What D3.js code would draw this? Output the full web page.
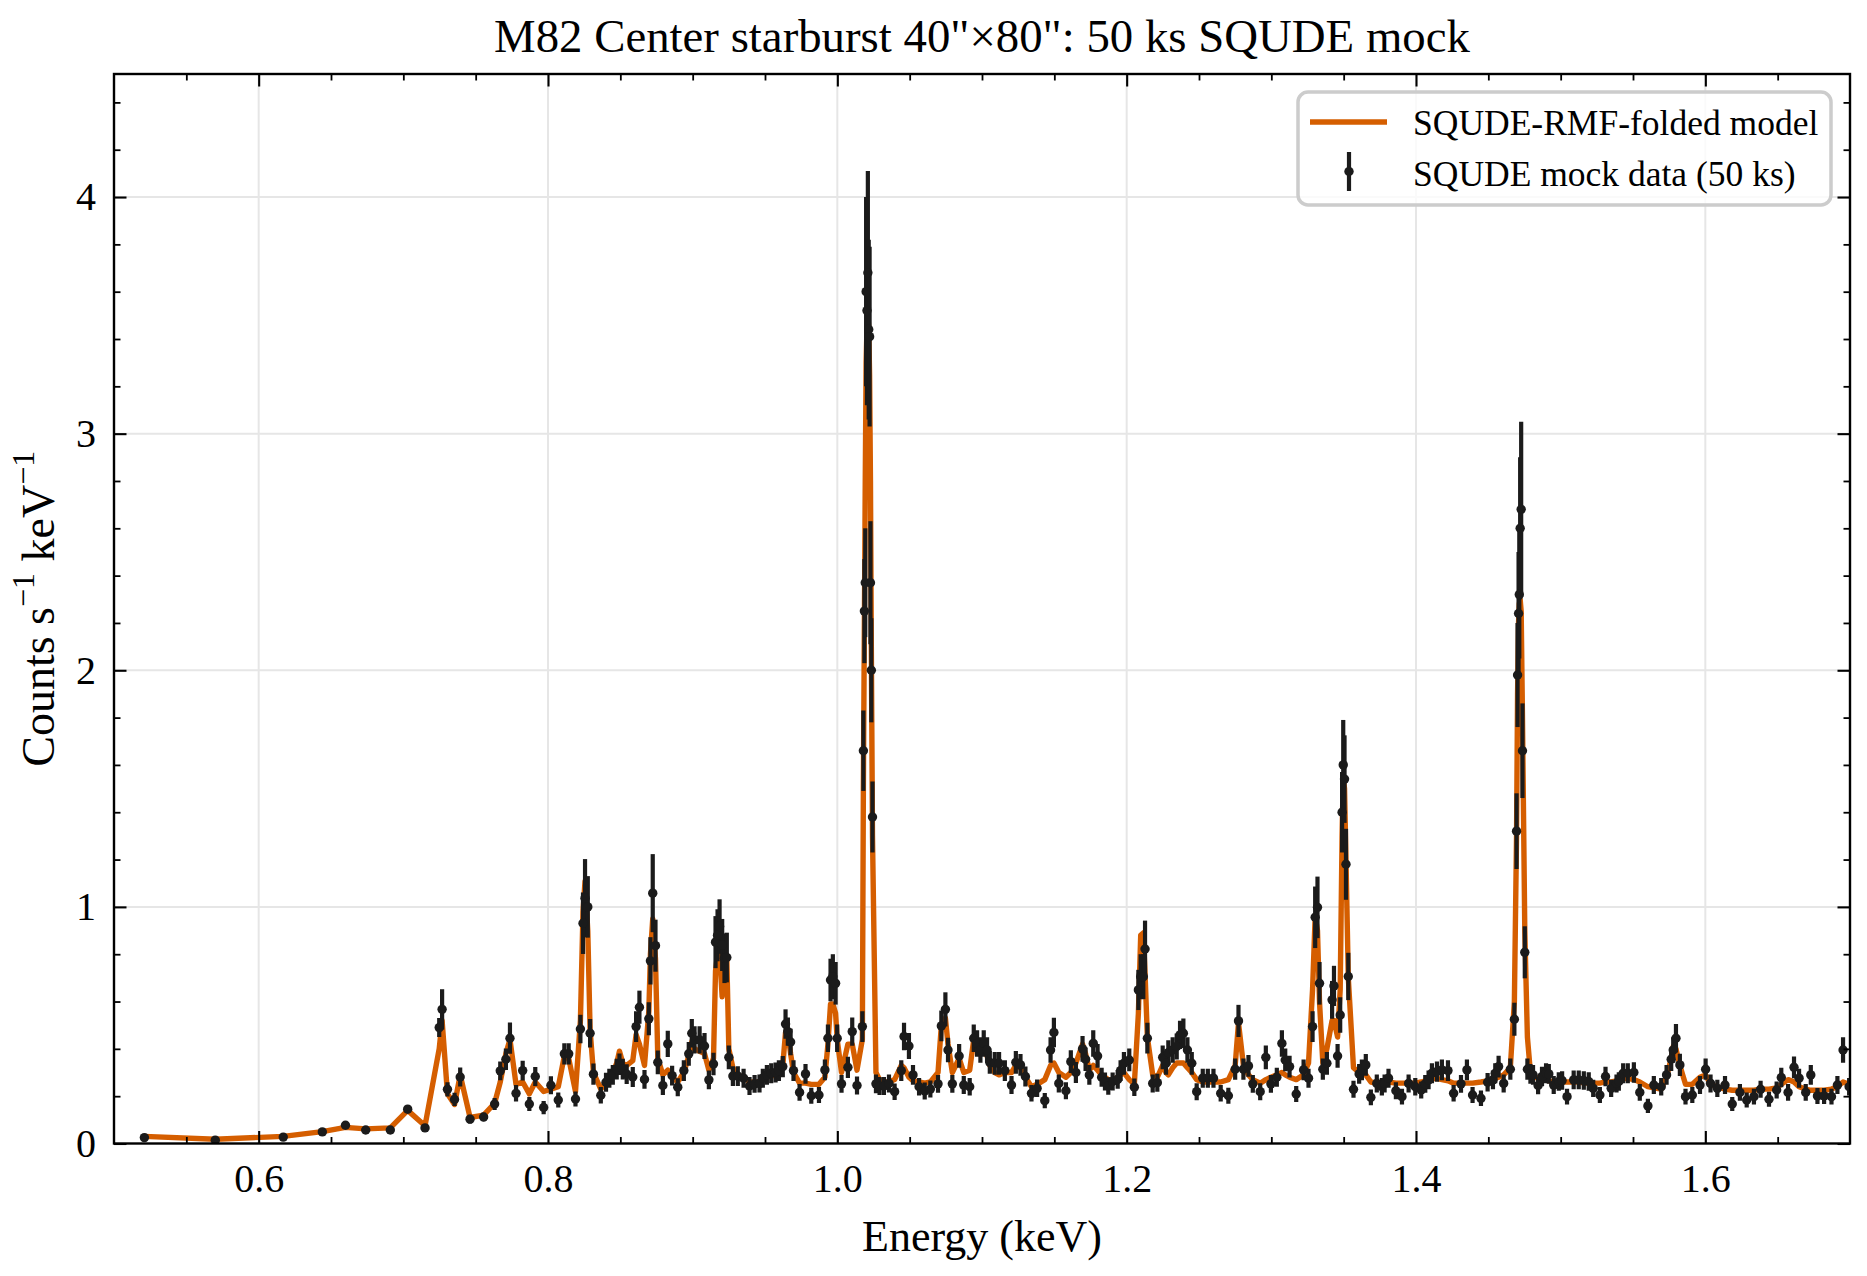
<!DOCTYPE html>
<html lang="en">
<head>
<meta charset="utf-8">
<title>M82 Center starburst: 50 ks SQUDE mock</title>
<script src="https://cdn.jsdelivr.net/npm/d3@7"></script>
<style>
  body { margin: 0; background: white; }
  svg { display: block; font-family: "Liberation Serif", "DejaVu Serif", serif; }
</style>
</head>
<body>
<div id="chart"></div>
<script>
// ---- data (keV, counts s^-1 keV^-1) ----
var energy = [
  0.521,0.570,0.617,0.644,0.660,0.674,0.691,0.703,0.715,0.7248,
  0.7268,0.7305,0.7354,0.7393,0.7461,0.7555,0.7631,0.7670,0.7709,0.7737,
  0.7779,0.7825,0.7871,0.7912,0.7970,0.8020,0.8071,0.8113,0.8143,0.8190,
  0.8224,0.8242,0.8256,0.8275,0.8291,0.8314,0.8365,0.8401,0.8424,0.8448,
  0.8475,0.8494,0.8517,0.8544,0.8586,0.8609,0.8632,0.8667,0.8697,0.8708,
  0.8724,0.8743,0.8759,0.8794,0.8828,0.8858,0.8897,0.8939,0.8973,0.8994,
  0.9013,0.9048,0.9082,0.9112,0.9144,0.9158,0.9172,0.9186,0.9204,0.9220,
  0.9236,0.9250,0.9278,0.9312,0.9352,0.9393,0.9428,0.9462,0.9485,0.9513,
  0.9543,0.9573,0.9596,0.9623,0.9642,0.9658,0.9677,0.9697,0.9739,0.9780,
  0.9820,0.9873,0.9914,0.9935,0.9953,0.9969,0.9988,0.9999,1.0029,1.0073,
  1.0103,1.0136,1.0173,1.0180,1.0187,1.0193,1.0199,1.0205,1.0211,1.0217,
  1.0223,1.0229,1.0235,1.0243,1.0267,1.0292,1.0322,1.0357,1.0396,1.0442,
  1.0461,1.0495,1.0523,1.0565,1.0604,1.0643,1.0696,1.0719,1.0747,1.0765,
  1.0795,1.0842,1.0874,1.0915,1.0943,1.0966,1.0989,1.1012,1.1035,1.1054,
  1.1088,1.1118,1.1158,1.1204,1.1234,1.1266,1.1300,1.1342,1.1381,1.1434,
  1.1474,1.1497,1.1531,1.1580,1.1614,1.1649,1.1695,1.1716,1.1742,1.1769,
  1.1799,1.1827,1.1850,1.1873,1.1903,1.1938,1.1958,1.1981,1.2018,1.2053,
  1.2081,1.2097,1.2115,1.2127,1.2143,1.2180,1.2212,1.2249,1.2272,1.2288,
  1.2318,1.2346,1.2369,1.2392,1.2420,1.2450,1.2484,1.2526,1.2561,1.2600,
  1.2650,1.2703,1.2750,1.2773,1.2807,1.2842,1.2872,1.2923,1.2962,1.2997,
  1.3038,1.3073,1.3096,1.3126,1.3172,1.3223,1.3257,1.3285,1.3303,1.3319,
  1.3333,1.3356,1.3384,1.3420,1.3433,1.3458,1.3476,1.3489,1.3497,1.3506,
  1.3516,1.3532,1.3568,1.3607,1.3626,1.3653,1.3688,1.3729,1.3764,1.3783,
  1.3810,1.3861,1.3903,1.3949,1.3995,1.4036,1.4064,1.4087,1.4110,1.4145,
  1.4179,1.4221,1.4260,1.4311,1.4352,1.4391,1.4449,1.4495,1.4532,1.4548,
  1.4571,1.4606,1.4652,1.4680,1.4695,1.4702,1.4709,1.4714,1.4720,1.4727,
  1.4736,1.4752,1.4770,1.4791,1.4809,1.4844,1.4871,1.4899,1.4918,1.4952,
  1.4987,1.5010,1.5044,1.5090,1.5125,1.5160,1.5194,1.5225,1.5271,1.5310,
  1.5349,1.5386,1.5402,1.5432,1.5464,1.5506,1.5547,1.5603,1.5644,1.5695,
  1.5732,1.5764,1.5778,1.5797,1.5824,1.5863,1.5910,1.5963,1.6002,1.6036,
  1.6083,1.6136,1.6186,1.6239,1.6286,1.6336,1.6382,1.6440,1.6493,1.6525,
  1.6572,1.6613,1.6648,1.6694,1.6729,1.6775,1.6821,1.6872,1.6913,1.6952,
  1.6994,1.7040
];

var counts = [
  0.025,0.014,0.027,0.049,0.077,0.057,0.057,0.145,0.066,0.490,
  0.567,0.229,0.186,0.281,0.103,0.112,0.167,0.307,0.356,0.445,
  0.212,0.308,0.167,0.283,0.152,0.246,0.184,0.379,0.379,0.188,
  0.484,0.931,1.037,1.000,0.466,0.293,0.204,0.259,0.276,0.290,
  0.314,0.335,0.314,0.293,0.281,0.494,0.576,0.271,0.527,0.772,
  1.058,0.836,0.343,0.245,0.421,0.287,0.238,0.308,0.379,0.466,
  0.438,0.438,0.412,0.269,0.336,0.851,0.880,0.917,0.839,0.783,
  0.786,0.364,0.285,0.285,0.276,0.243,0.252,0.254,0.276,0.290,
  0.297,0.300,0.308,0.325,0.505,0.473,0.429,0.308,0.216,0.294,
  0.202,0.205,0.311,0.445,0.691,0.705,0.677,0.445,0.252,0.322,
  0.473,0.245,0.494,1.660,2.250,2.370,3.600,3.520,3.680,3.440,
  3.410,2.370,2.000,1.380,0.252,0.243,0.243,0.254,0.219,0.308,
  0.452,0.412,0.290,0.240,0.222,0.230,0.252,0.497,0.567,0.395,
  0.252,0.370,0.247,0.240,0.445,0.423,0.395,0.423,0.395,0.343,
  0.339,0.339,0.308,0.247,0.343,0.332,0.283,0.212,0.233,0.181,
  0.395,0.469,0.254,0.223,0.346,0.300,0.400,0.356,0.290,0.423,
  0.370,0.280,0.262,0.243,0.262,0.271,0.308,0.339,0.353,0.238,
  0.649,0.705,0.705,0.822,0.445,0.254,0.257,0.364,0.339,0.384,
  0.395,0.410,0.459,0.466,0.395,0.339,0.219,0.276,0.276,0.276,
  0.212,0.202,0.314,0.518,0.314,0.328,0.252,0.219,0.364,0.252,
  0.280,0.423,0.353,0.325,0.209,0.311,0.276,0.494,0.956,0.998,
  0.677,0.314,0.339,0.607,0.666,0.370,0.543,1.400,1.600,1.540,
  1.180,0.706,0.229,0.294,0.311,0.332,0.195,0.254,0.240,0.254,
  0.276,0.223,0.198,0.254,0.240,0.226,0.252,0.269,0.297,0.304,
  0.311,0.308,0.212,0.252,0.311,0.205,0.191,0.259,0.269,0.297,
  0.325,0.254,0.314,0.525,1.320,1.980,2.240,2.320,2.600,2.680,
  1.660,0.808,0.314,0.294,0.290,0.245,0.283,0.297,0.294,0.247,
  0.262,0.266,0.198,0.269,0.269,0.266,0.262,0.233,0.205,0.283,
  0.233,0.254,0.262,0.297,0.297,0.300,0.216,0.159,0.247,0.240,
  0.290,0.356,0.395,0.445,0.332,0.198,0.205,0.247,0.314,0.254,
  0.233,0.247,0.167,0.216,0.184,0.198,0.229,0.187,0.226,0.279,
  0.216,0.322,0.276,0.216,0.290,0.201,0.201,0.198,0.247,0.395,
  0.240,0.260
];

var countErr = [
  0.006,0.005,0.006,0.008,0.010,0.009,0.010,0.015,0.012,0.040,
  0.085,0.030,0.028,0.040,0.018,0.018,0.025,0.040,0.045,0.066,
  0.035,0.042,0.030,0.040,0.028,0.038,0.032,0.045,0.045,0.032,
  0.060,0.130,0.165,0.130,0.060,0.045,0.035,0.040,0.040,0.042,
  0.044,0.045,0.044,0.042,0.042,0.065,0.070,0.040,0.070,0.100,
  0.165,0.110,0.050,0.040,0.055,0.042,0.038,0.044,0.050,0.060,
  0.058,0.058,0.055,0.040,0.048,0.110,0.110,0.115,0.110,0.105,
  0.105,0.050,0.042,0.042,0.040,0.038,0.038,0.038,0.040,0.042,
  0.042,0.042,0.044,0.045,0.062,0.060,0.056,0.044,0.035,0.042,
  0.034,0.034,0.044,0.058,0.090,0.095,0.090,0.058,0.038,0.045,
  0.060,0.038,0.065,0.170,0.220,0.230,0.400,0.400,0.430,0.380,
  0.380,0.260,0.220,0.150,0.040,0.038,0.038,0.038,0.035,0.044,
  0.058,0.055,0.042,0.037,0.036,0.036,0.038,0.065,0.072,0.052,
  0.038,0.050,0.038,0.037,0.058,0.056,0.054,0.056,0.054,0.048,
  0.048,0.048,0.044,0.038,0.048,0.046,0.042,0.035,0.037,0.032,
  0.054,0.062,0.038,0.036,0.048,0.044,0.054,0.050,0.042,0.056,
  0.050,0.040,0.038,0.037,0.038,0.040,0.044,0.048,0.048,0.037,
  0.085,0.095,0.095,0.120,0.065,0.038,0.038,0.050,0.048,0.052,
  0.054,0.055,0.060,0.062,0.054,0.048,0.036,0.040,0.040,0.040,
  0.035,0.034,0.045,0.068,0.045,0.046,0.038,0.036,0.050,0.038,
  0.040,0.056,0.048,0.046,0.034,0.044,0.040,0.065,0.130,0.130,
  0.090,0.045,0.048,0.080,0.085,0.050,0.075,0.170,0.190,0.185,
  0.150,0.100,0.036,0.042,0.044,0.046,0.033,0.038,0.037,0.038,
  0.040,0.036,0.033,0.038,0.037,0.036,0.038,0.040,0.042,0.043,
  0.044,0.044,0.035,0.038,0.044,0.034,0.033,0.039,0.040,0.042,
  0.046,0.038,0.045,0.070,0.160,0.220,0.260,0.270,0.300,0.370,
  0.200,0.110,0.045,0.042,0.042,0.037,0.041,0.042,0.042,0.038,
  0.039,0.039,0.033,0.040,0.040,0.039,0.039,0.036,0.034,0.041,
  0.036,0.038,0.039,0.042,0.042,0.043,0.035,0.030,0.038,0.037,
  0.042,0.050,0.054,0.060,0.047,0.033,0.034,0.038,0.045,0.038,
  0.036,0.038,0.030,0.035,0.032,0.033,0.036,0.032,0.036,0.041,
  0.035,0.046,0.040,0.035,0.042,0.034,0.034,0.033,0.038,0.054,
  0.037,0.039
];

var model = [
  0.030,0.018,0.030,0.050,0.068,0.062,0.066,0.140,0.075,0.400,
  0.520,0.210,0.165,0.290,0.110,0.120,0.170,0.260,0.380,0.440,
  0.250,0.260,0.210,0.260,0.220,0.230,0.240,0.370,0.360,0.220,
  0.520,0.980,1.110,0.900,0.480,0.300,0.230,0.260,0.290,0.300,
  0.340,0.390,0.340,0.330,0.350,0.460,0.420,0.330,0.560,0.800,
  0.950,0.780,0.360,0.290,0.310,0.280,0.260,0.300,0.370,0.430,
  0.400,0.390,0.380,0.310,0.360,0.730,0.800,0.800,0.620,0.780,
  0.780,0.400,0.320,0.290,0.280,0.260,0.260,0.260,0.270,0.280,
  0.285,0.290,0.300,0.330,0.470,0.470,0.380,0.300,0.255,0.255,
  0.250,0.250,0.280,0.420,0.590,0.590,0.550,0.440,0.300,0.420,
  0.420,0.310,0.440,1.500,2.200,2.800,3.300,3.450,3.500,3.450,
  3.250,2.800,2.100,1.300,0.300,0.270,0.260,0.260,0.270,0.330,
  0.320,0.280,0.265,0.260,0.255,0.260,0.300,0.500,0.530,0.420,
  0.300,0.360,0.300,0.310,0.440,0.420,0.380,0.400,0.370,0.330,
  0.300,0.290,0.300,0.300,0.330,0.320,0.280,0.240,0.250,0.270,
  0.330,0.340,0.300,0.280,0.300,0.340,0.420,0.380,0.310,0.330,
  0.310,0.290,0.280,0.270,0.270,0.280,0.290,0.300,0.270,0.250,
  0.550,0.880,0.890,0.720,0.450,0.290,0.280,0.330,0.300,0.290,
  0.320,0.340,0.340,0.340,0.320,0.300,0.270,0.260,0.260,0.260,
  0.260,0.270,0.330,0.510,0.330,0.290,0.270,0.255,0.270,0.280,
  0.290,0.300,0.290,0.280,0.270,0.290,0.340,0.650,0.960,0.900,
  0.600,0.340,0.400,0.520,0.520,0.450,0.650,1.300,1.550,1.500,
  1.200,0.700,0.320,0.300,0.300,0.290,0.260,0.255,0.255,0.255,
  0.260,0.255,0.255,0.255,0.255,0.260,0.265,0.270,0.275,0.275,
  0.270,0.265,0.255,0.255,0.255,0.255,0.260,0.265,0.270,0.275,
  0.280,0.290,0.320,0.600,1.300,1.900,2.200,2.280,2.300,2.250,
  1.800,0.900,0.450,0.300,0.285,0.275,0.270,0.270,0.265,0.260,
  0.260,0.260,0.260,0.260,0.260,0.255,0.255,0.255,0.255,0.260,
  0.260,0.265,0.270,0.275,0.275,0.270,0.260,0.240,0.235,0.230,
  0.280,0.360,0.410,0.400,0.330,0.250,0.250,0.280,0.290,0.250,
  0.240,0.230,0.225,0.225,0.225,0.225,0.230,0.230,0.235,0.250,
  0.270,0.260,0.240,0.230,0.225,0.225,0.225,0.230,0.240,0.260,
  0.250,0.255
];

// axis ranges and ticks
var xRange = [0.5, 1.7];
var yRange = [0, 4.52];
var xMajor = [0.6, 0.8, 1.0, 1.2, 1.4, 1.6];
var xMinor = [0.55, 0.65, 0.7, 0.75, 0.85, 0.9, 0.95, 1.05, 1.1, 1.15, 1.25, 1.3, 1.35, 1.45, 1.5, 1.55, 1.65];
var yMajor = [0, 1, 2, 3, 4];
var yMinor = [0.2, 0.4, 0.6, 0.8, 1.2, 1.4, 1.6, 1.8, 2.2, 2.4, 2.6, 2.8, 3.2, 3.4, 3.6, 3.8, 4.2, 4.4];

var titleText = 'M82 Center starburst 40"\u00d780": 50 ks SQUDE mock';
var modelLabel = "SQUDE-RMF-folded model";
var dataLabel = "SQUDE mock data (50 ks)";

var modelColor = "#d55e00";
var dataColor = "#1b1b1b";

// ---- layout ----
var W = 1867, H = 1276;
var margin = {top: 74, right: 17, bottom: 132.5, left: 114};
var width = W - margin.left - margin.right,
    height = H - margin.top - margin.bottom;

var svg = d3.select("#chart").append("svg")
    .attr("width", W)
    .attr("height", H);

svg.append("rect").attr("width", W).attr("height", H).attr("fill", "white");

var g = svg.append("g")
    .attr("transform", "translate(" + margin.left + "," + margin.top + ")");

var x = d3.scaleLinear().domain(xRange).range([0, width]);
var y = d3.scaleLinear().domain(yRange).range([height, 0]);

svg.append("defs").append("clipPath").attr("id", "plotclip")
  .append("rect").attr("x", 0).attr("y", 0).attr("width", width).attr("height", height);

// grid
g.append("g").selectAll("line").data(xMajor).join("line")
    .attr("x1", d => x(d)).attr("x2", d => x(d))
    .attr("y1", 0).attr("y2", height)
    .attr("stroke", "#e6e6e6").attr("stroke-width", 2);
g.append("g").selectAll("line").data(yMajor.filter(d => d > 0)).join("line")
    .attr("x1", 0).attr("x2", width)
    .attr("y1", d => y(d)).attr("y2", d => y(d))
    .attr("stroke", "#e6e6e6").attr("stroke-width", 2);

var rows = energy.map(function(e, i) {
  return {e: e, c: counts[i], err: countErr[i], m: model[i]};
});

var plot = g.append("g").attr("clip-path", "url(#plotclip)");

// model line
plot.append("path")
    .datum(rows)
    .attr("fill", "none")
    .attr("stroke", modelColor)
    .attr("stroke-width", 5.4)
    .attr("stroke-linejoin", "round")
    .attr("d", d3.line().x(d => x(d.e)).y(d => y(d.m)));

// error bars
plot.append("g").selectAll("line").data(rows).join("line")
    .attr("x1", d => x(d.e)).attr("x2", d => x(d.e))
    .attr("y1", d => y(d.c - d.err)).attr("y2", d => y(d.c + d.err))
    .attr("stroke", dataColor).attr("stroke-width", 4.2);

// points
plot.append("g").selectAll("circle").data(rows).join("circle")
    .attr("cx", d => x(d.e)).attr("cy", d => y(d.c))
    .attr("r", 4.7)
    .attr("fill", dataColor);

// axes with inward ticks on all sides
function tidy(sel, sw) {
  sel.select(".domain").remove();
  sel.selectAll(".tick line").attr("stroke", "#000").attr("stroke-width", sw);
  sel.selectAll("text")
    .attr("font-family", "Liberation Serif, DejaVu Serif, serif")
    .attr("font-size", 40)
    .attr("fill", "#000");
}

g.append("g").attr("transform", "translate(0," + height + ")")
  .call(d3.axisBottom(x).tickValues(xMajor).tickFormat(d3.format(".1f"))
        .tickSizeInner(-12.5).tickSizeOuter(0).tickPadding(20))
  .call(tidy, 2.1);
g.append("g").attr("transform", "translate(0," + height + ")")
  .call(d3.axisBottom(x).tickValues(xMinor).tickFormat("")
        .tickSizeInner(-6.5).tickSizeOuter(0))
  .call(tidy, 1.8);
g.append("g")
  .call(d3.axisTop(x).tickValues(xMajor).tickFormat("")
        .tickSizeInner(-12.5).tickSizeOuter(0))
  .call(tidy, 2.1);
g.append("g")
  .call(d3.axisTop(x).tickValues(xMinor).tickFormat("")
        .tickSizeInner(-6.5).tickSizeOuter(0))
  .call(tidy, 1.8);

g.append("g")
  .call(d3.axisLeft(y).tickValues(yMajor).tickFormat(d3.format("d"))
        .tickSizeInner(-12.5).tickSizeOuter(0).tickPadding(18))
  .call(tidy, 2.1);
g.append("g")
  .call(d3.axisLeft(y).tickValues(yMinor).tickFormat("")
        .tickSizeInner(-6.5).tickSizeOuter(0))
  .call(tidy, 1.8);
g.append("g").attr("transform", "translate(" + width + ",0)")
  .call(d3.axisRight(y).tickValues(yMajor).tickFormat("")
        .tickSizeInner(-12.5).tickSizeOuter(0))
  .call(tidy, 2.1);
g.append("g").attr("transform", "translate(" + width + ",0)")
  .call(d3.axisRight(y).tickValues(yMinor).tickFormat("")
        .tickSizeInner(-6.5).tickSizeOuter(0))
  .call(tidy, 1.8);

// frame
g.append("rect")
    .attr("width", width).attr("height", height)
    .attr("fill", "none").attr("stroke", "#000").attr("stroke-width", 2.4);

// title and axis labels
svg.append("text")
    .attr("x", margin.left + width / 2).attr("y", 52)
    .attr("text-anchor", "middle")
    .attr("font-size", 46.8)
    .text(titleText);

svg.append("text")
    .attr("x", margin.left + width / 2).attr("y", 1251)
    .attr("text-anchor", "middle")
    .attr("font-size", 44)
    .text("Energy (keV)");

var ylab = svg.append("text")
    .attr("transform", "translate(38," + (margin.top + height / 2) + ") rotate(-90)")
    .attr("text-anchor", "middle")
    .attr("dominant-baseline", "central")
    .attr("font-size", 46);
ylab.append("tspan").text("Counts s");
ylab.append("tspan").attr("dy", -15).attr("font-size", 32).text("\u22121");
ylab.append("tspan").attr("dy", 15).text(" keV");
ylab.append("tspan").attr("dy", -15).attr("font-size", 32).text("\u22121");

// legend
var leg = svg.append("g");
leg.append("rect")
    .attr("x", 1298).attr("y", 92).attr("width", 533).attr("height", 113)
    .attr("rx", 10)
    .attr("fill", "white").attr("fill-opacity", 0.8)
    .attr("stroke", "#cccccc").attr("stroke-width", 3.5);
leg.append("line")
    .attr("x1", 1310).attr("x2", 1387).attr("y1", 122).attr("y2", 122)
    .attr("stroke", modelColor).attr("stroke-width", 5.4);
leg.append("line")
    .attr("x1", 1349).attr("x2", 1349).attr("y1", 152).attr("y2", 191)
    .attr("stroke", dataColor).attr("stroke-width", 4.2);
leg.append("circle")
    .attr("cx", 1349).attr("cy", 171.5).attr("r", 4.7).attr("fill", dataColor);
leg.append("text").attr("x", 1413).attr("y", 134.5)
    .attr("font-size", 35.5).text(modelLabel);
leg.append("text").attr("x", 1413).attr("y", 185.5)
    .attr("font-size", 35.5).text(dataLabel);
</script>
</body>
</html>
